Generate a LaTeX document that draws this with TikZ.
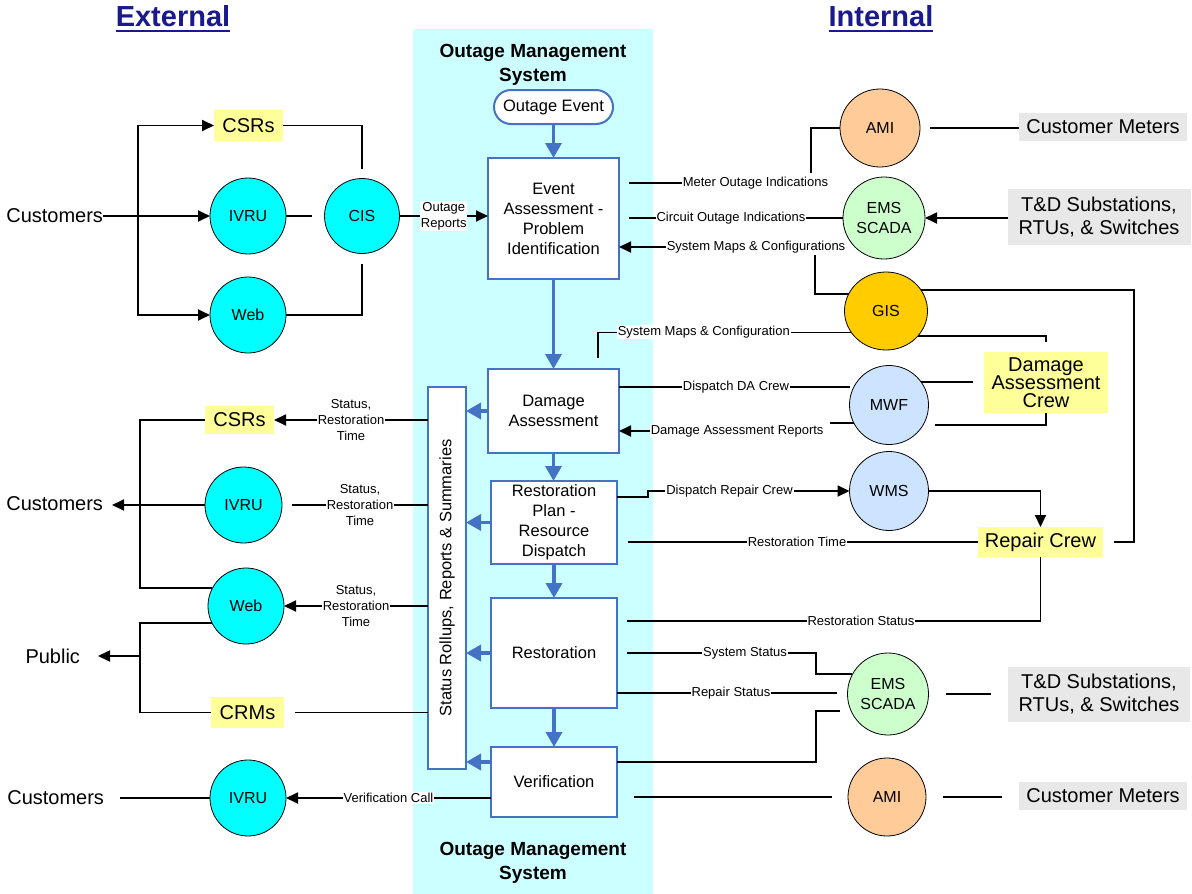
\documentclass[tikz,border=0pt]{standalone}
\usepackage{fontspec}
\setmainfont{Liberation Sans}
\usetikzlibrary{arrows.meta,shapes.geometric}
\definecolor{omsbg}{RGB}{204,255,255}
\definecolor{cyanc}{RGB}{0,255,255}
\definecolor{yel}{RGB}{255,255,153}
\definecolor{grayb}{RGB}{232,232,232}
\definecolor{amic}{RGB}{255,204,153}
\definecolor{emsc}{RGB}{204,255,204}
\definecolor{gisc}{RGB}{255,204,0}
\definecolor{mwfc}{RGB}{204,228,255}
\definecolor{bluec}{RGB}{68,114,196}
\definecolor{navyc}{RGB}{26,26,140}
\begin{document}
\begin{tikzpicture}[x=1pt,y=-1pt,
  every node/.style={inner sep=0pt, outer sep=0pt},
  big/.style={font=\fontsize{20}{23}\selectfont, align=center},
  circ/.style={ellipse, draw=black, line width=0.8pt, font=\fontsize{16}{20}\selectfont, align=center},
  omsbox/.style={draw=bluec, line width=2pt, fill=white, font=\fontsize{16.5}{20}\selectfont, align=center},
  yelbox/.style={big, fill=yel},
  graybox/.style={big, fill=grayb},
  conn/.style={draw=black, line width=1.8pt},
  arr/.style={conn, -{Triangle[length=12pt,width=11pt]}},
  barr/.style={draw=bluec, line width=3.5pt, -{Triangle[length=15pt,width=16pt]}},
  lbl/.style={fill=white, font=\fontsize{13}{16}\selectfont, align=center, inner sep=0.8pt},
  ttl/.style={font=\fontsize{29}{34}\selectfont\bfseries, text=navyc, anchor=base},
  omst/.style={font=\fontsize{19}{24}\selectfont\bfseries, align=center}
]
\useasboundingbox (0,0) rectangle (1192,894);
\fill[omsbg] (413,29) rectangle (653,894);

% titles
\node[ttl] (ext) at (173,27) {External};
\draw[navyc, line width=2.6pt] ([yshift=-4pt]ext.base west) -- ([yshift=-4pt]ext.base east);
\node[ttl] (int) at (881,27) {Internal};
\draw[navyc, line width=2.6pt] ([yshift=-4pt]int.base west) -- ([yshift=-4pt]int.base east);

\node[omst] (omstop) at (533,65) {Outage Management\\System};
\node[omst] (omsbot) at (533,863) {Outage Management\\System};

% OMS process
\node[omsbox, minimum width=119pt, minimum height=34pt, rounded corners=17pt] (oe) at (553.5,107) {Outage Event};
\node[omsbox, minimum width=131pt, minimum height=121pt] (ev) at (553.5,218.5) {Event\\Assessment -\\Problem\\Identification};
\node[omsbox, minimum width=131pt, minimum height=84pt] (da) at (553.5,411) {Damage\\Assessment};
\node[omsbox, minimum width=126pt, minimum height=83pt] (rp) at (554,522.5) {Restoration\\Plan -\\Resource\\Dispatch};
\node[omsbox, minimum width=126pt, minimum height=110pt] (rs) at (554,653) {Restoration};
\node[omsbox, minimum width=126pt, minimum height=70pt] (vf) at (554,782) {Verification};
\node[omsbox, minimum width=38pt, minimum height=382pt] (st) at (447,578) {};
\node[rotate=90, font=\fontsize{16.5}{20}\selectfont] (stt) at (st.center) {Status Rollups, Reports \& Summaries};

\draw[barr] (oe.south) -- (ev.north);
\draw[barr] (ev.south) -- (da.north);
\draw[barr] (da.south) -- (da.south |- rp.north);
\draw[barr] (rp.south) -- (rs.north);
\draw[barr] (rs.south) -- (vf.north);
\draw[barr] (da.west) -- (da.west -| st.east);
\draw[barr] (rp.west) -- (rp.west -| st.east);
\draw[barr] (rs.west) -- (rs.west -| st.east);
\draw[barr] ([yshift=20pt]vf.west) -- ([yshift=20pt]vf.west -| st.east);

% external top
\node[big, anchor=east] (cust1) at (103,216) {Customers};
\coordinate (b1) at (138,216);
\node[yelbox, minimum width=69pt, minimum height=31pt] (csr1) at (248.5,125.5) {CSRs};
\node[circ, fill=cyanc, minimum width=76pt, minimum height=76pt] (ivru1) at (248,216) {IVRU};
\node[circ, fill=cyanc, minimum width=75pt, minimum height=75pt] (cis) at (362,216) {CIS};
\node[circ, fill=cyanc, minimum width=76pt, minimum height=76pt] (web1) at (248,315) {Web};
\draw[conn] (cust1.east) -- (b1);
\draw[arr] (b1) -- (ivru1.west);
\draw[arr] (b1) |- (csr1.west);
\draw[arr] (b1) |- (web1.west);
\draw[conn] (csr1.east) -| ([yshift=10pt]cis.north);
\draw[conn] (ivru1.east) -- ([xshift=26pt]ivru1.east);
\draw[conn] (web1.east) -| ([yshift=-10pt]cis.south);
\draw[arr] (cis.east) -- node[lbl]{Outage\\Reports} (cis.east -| ev.west);

% internal top
\node[circ, fill=amic, minimum width=80pt, minimum height=78pt] (ami1) at (880,128) {AMI};
\node[graybox, minimum width=168pt, minimum height=28pt] (cm1) at (1103,127) {Customer Meters};
\node[circ, fill=emsc, minimum width=82pt, minimum height=82pt] (ems1) at (884,218) {EMS\\SCADA};
\node[graybox, minimum width=183pt, minimum height=56pt] (td1) at (1099,217) {T\&D Substations,\\RTUs, \& Switches};
\node[circ, fill=gisc, minimum width=83pt, minimum height=78pt] (gis) at (886,311) {GIS};
\node[yelbox, minimum width=124pt, minimum height=61pt, font=\fontsize{20}{18}\selectfont] (dac) at (1046,382.5) {Damage\\Assessment\\Crew};
\node[circ, fill=mwfc, minimum width=79pt, minimum height=79pt] (mwf) at (889,405) {MWF};
\node[circ, fill=mwfc, minimum width=79pt, minimum height=79pt] (wms) at (889,491) {WMS};
\node[yelbox, minimum width=125pt, minimum height=30pt] (rc) at (1040.5,542) {Repair Crew};

\coordinate (mo) at (811,173);
\coordinate (moL) at (629,183);
\coordinate (coL) at (629,218);
\coordinate (smcv) at (815,255);
\coordinate (smd) at (598,358);

\draw[conn] ([xshift=10pt]ami1.east) -- (cm1.west |- ami1.east);
\draw[conn] (ami1.west) -| (mo);
\node[lbl, anchor=west] (molbl) at (682,183) {Meter Outage Indications};
\draw[conn] (moL) -- (molbl.west);
\draw[conn] (coL) -- (ems1.west);
\node[lbl] (colbl) at (731,218) {Circuit Outage Indications};
\draw[arr] (td1.west |- ems1.east) -- (ems1.east);
\node[lbl, anchor=west] (smc) at (666,247) {System Maps \& Configurations};
\draw[arr] (smc.west) -- (smc.west -| ev.east);
\draw[conn] (gis.155) -| (smcv);
\draw[conn] (gis.31) -| ([xshift=31pt]rc.east) -- ([xshift=11pt]rc.east);
\draw[conn] (gis.-38) -| ([yshift=10pt]dac.north);
\draw[conn] (gis.212) -- (smd |- gis.212) -- (smd);
\node[lbl, anchor=west] (smc2) at (617,332) {System Maps \& Configuration};

\draw[conn] ([yshift=24pt]da.east) -- ([yshift=24pt]da.east -| mwf.west);
\node[lbl] (ddc) at (736,387) {Dispatch DA Crew};
\draw[conn] (mwf.35) -- ([xshift=-11pt]dac.west |- mwf.35);
\node[lbl, anchor=west] (dar) at (650,431) {Damage Assessment Reports};
\draw[arr] (dar.west) -- (dar.west -| da.east);
\draw[conn] (mwf.207) -- ([xshift=-24pt]mwf.207);
\coordinate (dacb) at (935,425);
\draw[conn] (dac.south) |- (dacb);

\draw[arr] ([yshift=25.5pt]rp.east) -- ++(31,0) |- (wms.west);
\node[lbl] (drc) at (729.5,491) {Dispatch Repair Crew};
\draw[arr] (wms.east) -| (rc.north);
\draw[conn] (rc.west) -- ([xshift=11pt]rp.east |- rc.west);
\node[lbl] (rtl) at (797,542) {Restoration Time};
\draw[conn] (rc.south) |- ([shift={(10pt,32pt)}]rs.east);
\node[lbl] (rsl) at (861,621) {Restoration Status};

% internal bottom
\node[circ, fill=emsc, minimum width=81pt, minimum height=82pt] (ems2) at (888,694) {EMS\\SCADA};
\node[graybox, minimum width=182pt, minimum height=55pt] (td2) at (1099,694) {T\&D Substations,\\RTUs, \& Switches};
\node[circ, fill=amic, minimum width=78pt, minimum height=78pt] (ami2) at (887,797) {AMI};
\node[graybox, minimum width=168pt, minimum height=28pt] (cm2) at (1103,796) {Customer Meters};

\draw[conn] ([xshift=10pt]rs.east) -- ++(189,0) |- (ems2.151);
\node[lbl] (ssl) at (745,653) {System Status};
\draw[conn] ([yshift=-40pt]rs.east) -- ++(220,0);
\node[lbl] (rpl) at (731,693) {Repair Status};
\draw[conn] ([yshift=20pt]vf.east) -- ++(199,0) -- ++(0,-51) -- ++(24,0);
\draw[conn] ([xshift=17pt]ems2.east) -- ([xshift=-17pt]td2.west |- ems2.east);
\draw[conn] ([shift={(17pt,-15pt)}]vf.east) -- ([xshift=-16pt]ami2.west);
\draw[conn] ([xshift=17pt]ami2.east) -- ([xshift=-17pt]cm2.west |- ami2.east);

% external bottom
\node[yelbox, minimum width=69pt, minimum height=28pt] (csr2) at (239.5,420) {CSRs};
\node[big, anchor=east] (cust2) at (103,504) {Customers};
\node[circ, fill=cyanc, minimum width=77pt, minimum height=76pt] (ivru2) at (243.5,505) {IVRU};
\node[circ, fill=cyanc, minimum width=76pt, minimum height=76pt] (web2) at (246,606) {Web};
\node[big, anchor=east] (pub) at (80,656) {Public};
\node[yelbox, minimum width=73pt, minimum height=31pt] (crm) at (247.5,712.5) {CRMs};
\node[big, anchor=east] (cust3) at (104,798) {Customers};
\node[circ, fill=cyanc, minimum width=76pt, minimum height=76pt] (ivru3) at (248,798) {IVRU};
\coordinate (b2) at (140,505);
\coordinate (b3) at (140,656);

\draw[arr] (st.west |- csr2.east) -- node[lbl]{Status,\\Restoration\\Time} (csr2.east);
\draw[conn] (csr2.west) -| (b2) |- (web2.152);
\draw[arr] (ivru2.west) -- ([xshift=9pt]cust2.east |- ivru2.west);
\draw[conn] ([xshift=10pt]ivru2.east) -- node[lbl]{Status,\\Restoration\\Time} (st.west |- ivru2.east);
\draw[arr] (st.west |- web2.east) -- node[lbl]{Status,\\Restoration\\Time} (web2.east);
\draw[conn] (web2.207) -| (b3) |- (crm.west);
\draw[arr] (b3) -- ([xshift=18pt]pub.east);
\draw[conn] ([xshift=11pt]crm.east) -- (st.west |- crm.east);
\draw[conn] ([xshift=16pt]cust3.east) -- (ivru3.west);
\draw[arr] (vf.west |- ivru3.east) -- node[lbl]{Verification Call} (ivru3.east);
\end{tikzpicture}
\end{document}
